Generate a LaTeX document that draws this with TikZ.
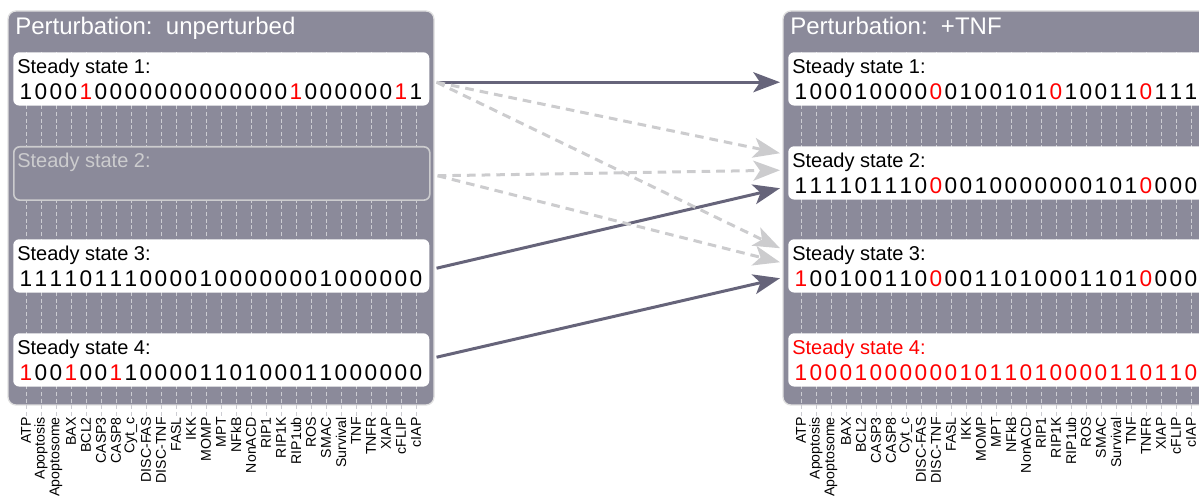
\documentclass[tikz,border=0pt]{standalone}
\usepackage{fontspec}
\setmainfont{Liberation Sans}
\usetikzlibrary{positioning,arrows.meta}

\definecolor{panel}{RGB}{139,138,154}
\definecolor{edgeline}{RGB}{102,100,122}
\definecolor{ghost}{RGB}{204,204,206}
\definecolor{guide}{RGB}{204,204,210}

\newcommand{\chg}[1]{\textcolor{red}{#1}}
% one row of node values: x offset, baseline, values
\newcommand{\bitrow}[3]{%
  \foreach \b [count=\i from 0] in {#3}
    \node[bit] at (#1+26+15*\i,#2) {\b};}

\begin{document}
\begin{tikzpicture}[x=0.75pt,y=-0.75pt,
  panelbox/.style={fill=panel,draw=black!12,line width=1pt,rounded corners=6pt},
  ssbox/.style={fill=white,rounded corners=4.5pt,minimum width=312pt,minimum height=40pt,anchor=north west,inner sep=0},
  ghostbox/.style={ssbox,fill=panel,draw=ghost,line width=1.2pt},
  title/.style={text=white,font=\fontsize{18}{20}\selectfont,anchor=base west,inner sep=0},
  sslabel/.style={font=\fontsize{15}{17}\selectfont,anchor=base west,inner sep=0},
  bit/.style={font=\fontsize{17}{19}\selectfont,anchor=base,inner sep=0},
  gene/.style={font=\fontsize{10.6}{12}\selectfont,rotate=90,anchor=east,inner sep=0},
  guideline/.style={guide,line width=0.75pt,dash pattern=on 3pt off 2pt},
  trans/.style={edgeline,line width=2.25pt,-{Stealth[length=20pt,width=15pt,inset=5pt]}},
  maybe/.style={ghost,line width=2.25pt,dash pattern=on 6.5pt off 4.5pt,-{Stealth[length=20pt,width=15pt,inset=5pt]}}]
\useasboundingbox (0,0) rectangle (1199,498);
\clip (0,0) rectangle (1199,498);

% the two panels
\draw[panelbox] (8,11) rectangle (434,405);
\draw[panelbox] (783,11) rectangle (1220,405);

% columns and node names
\foreach \dx in {0,775}{
  \foreach \i in {0,...,26}
    \draw[guideline] (\dx+26+15*\i,52) -- (\dx+26+15*\i,416);
  \foreach \g [count=\i from 0] in {ATP,Apoptosis,Apoptosome,BAX,BCL2,CASP3,CASP8,Cyt\_c,DISC-FAS,DISC-TNF,FASL,IKK,MOMP,MPT,NFkB,NonACD,RIP1,RIP1K,RIP1ub,ROS,SMAC,Survival,TNF,TNFR,XIAP,cFLIP,cIAP}
    \node[gene] at (\dx+26+15*\i,417) {\g};
}

% unperturbed
\node[title] at (15,35) {Perturbation:\ \ unperturbed};

\node[ssbox] (u1) at (13,52) {};
\node[sslabel] at (17,74) {Steady state 1:};
\bitrow{0}{100}{1,0,0,0,\chg{1},0,0,0,0,0,0,0,0,0,0,0,0,0,\chg{1},0,0,0,0,0,0,\chg{1},1}

\node[ghostbox] (u2) at (13,146) {};
\node[sslabel,text=ghost] at (17,168) {Steady state 2:};

\node[ssbox] (u3) at (13,239) {};
\node[sslabel] at (17,261) {Steady state 3:};
\bitrow{0}{287}{1,1,1,1,0,1,1,1,0,0,0,0,1,0,0,0,0,0,0,0,1,0,0,0,0,0,0}

\node[ssbox] (u4) at (13,333) {};
\node[sslabel] at (17,355) {Steady state 4:};
\bitrow{0}{381}{\chg{1},0,0,\chg{1},0,0,\chg{1},1,0,0,0,0,1,1,0,1,0,0,0,1,1,0,0,0,0,0,0}

% +TNF
\node[title] at (790,35) {Perturbation:\ \ +TNF};

\node[ssbox] (t1) at (788,52) {};
\node[sslabel] at (792,74) {Steady state 1:};
\bitrow{775}{100}{1,0,0,0,1,0,0,0,0,\chg{0},0,1,0,0,1,0,1,\chg{0},1,0,0,1,1,\chg{0},1,1,1}

\node[ssbox] (t2) at (788,146) {};
\node[sslabel] at (792,168) {Steady state 2:};
\bitrow{775}{194}{1,1,1,1,0,1,1,1,0,\chg{0},0,0,1,0,0,0,0,0,0,0,1,0,1,\chg{0},0,0,0}

\node[ssbox] (t3) at (788,239) {};
\node[sslabel] at (792,261) {Steady state 3:};
\bitrow{775}{287}{\chg{1},0,0,1,0,0,1,1,0,\chg{0},0,0,1,1,0,1,0,0,0,1,1,0,1,\chg{0},0,0,0}

\node[ssbox] (t4) at (788,333) {};
\begin{scope}[every node/.style={text=red}]
\node[sslabel] at (792,355) {Steady state 4:};
\bitrow{775}{381}{1,0,0,0,1,0,0,0,0,0,0,1,0,1,1,0,1,0,0,0,0,1,1,0,1,1,0}
\end{scope}

% transitions
\draw[trans] ([shift={(7,3.3)}]u1.east) -- ([shift={(-8,3.3)}]t1.west);
\draw[trans] ([shift={(7,2.3)}]u3.east) -- ([shift={(-8,15.3)}]t2.west);
\draw[trans] ([shift={(7,-2.7)}]u4.east) -- ([shift={(-8,12.3)}]t3.west);
\draw[maybe] ([shift={(7,3.3)}]u1.east) -- ([shift={(-8,-19.7)}]t2.west);
\draw[maybe] ([shift={(7,3.3)}]u1.east) -- ([shift={(-8,-17.7)}]t3.west);
\draw[maybe] ([shift={(7,2.3)}]u2.east) -- ([shift={(-8,-2.7)}]t2.west);
\draw[maybe] ([shift={(7,2.3)}]u2.east) -- ([shift={(-8,-3.7)}]t3.west);

\end{tikzpicture}
\end{document}
